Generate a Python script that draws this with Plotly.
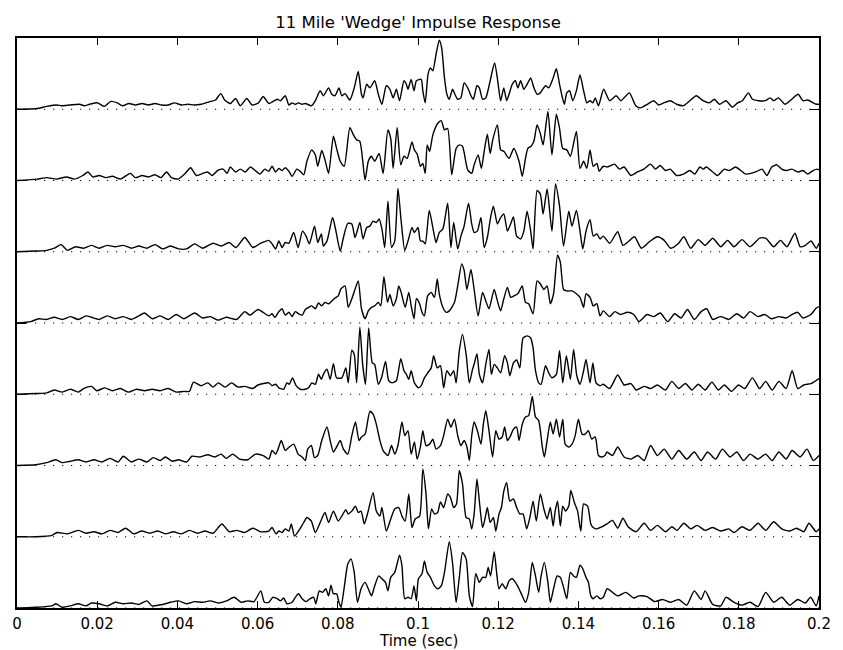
import plotly.graph_objects as go

TITLE = "11 Mile 'Wedge' Impulse Response"
X_LABEL = "Time (sec)"
X_TICKS = [0, 0.02, 0.04, 0.06, 0.08, 0.1, 0.12, 0.14, 0.16, 0.18, 0.2]
X_TICK_TEXT = ["0", "0.02", "0.04", "0.06", "0.08", "0.1", "0.12", "0.14", "0.16", "0.18", "0.2"]

# each trace: (time in ms, relative amplitude); traces listed top to bottom
TRACE_1 = [(0, 0), (5.0, 0.01), (7.4, 0.04), (9.9, 0.06), (11.1, 0.05), (13.2, 0.06), (15.6, 0.07), (16.8, 0.05),
           (18.1, 0.07), (20.1, 0.09), (21.8, 0.04), (23.4, 0.11), (25.0, 0.09), (26.3, 0.05), (27.9, 0.08), (29.5, 0.06),
           (31.2, 0.08), (32.8, 0.06), (34.4, 0.08), (36.1, 0.06), (37.7, 0.06), (39.3, 0.09), (41.0, 0.06), (42.6, 0.07),
           (44.2, 0.06), (45.9, 0.07), (48.3, 0.11), (49.5, 0.13), (50.8, 0.22), (51.8, 0.13), (53.2, 0.08), (54.5, 0.15),
           (55.7, 0.05), (57.3, 0.15), (58.6, 0.06), (60.2, 0.09), (61.4, 0.18),
           (62.8, 0.08), (64.9, 0.14), (65.7, 0.12), (66.9, 0.19), (67.8, 0.06), (68.6, 0.09), (69.4, 0.07), (70.2, 0.09),
           (71.1, 0.07), (71.9, 0.08), (73.5, 0.05), (74.4, 0.12), (75.6, 0.26), (76.4, 0.19), (77.7, 0.30), (78.5, 0.21),
           (79.3, 0.19), (80.3, 0.30), (81.0, 0.19), (81.8, 0.22), (83.0, 0.13), (84.1, 0.30), (85.1, 0.53), (85.9, 0.21),
           (86.3, 0.16), (87.2, 0.35), (88.0, 0.30), (89.2, 0.40), (90.1, 0.21), (91.0, 0.07), (92.1, 0.33), (93.0, 0.28),
           (93.8, 0.16), (94.6, 0.28), (95.4, 0.12), (96.5, 0.40), (97.1, 0.35), (97.5, 0.28), (98.3, 0.42), (99.0, 0.26),
           (99.6, 0.40), (100.8, 0.42), (101.2, 0.26), (101.8, 0.09), (102.5, 0.49), (103.1, 0.58), (103.7, 0.54),
           (104.5, 0.77), (105.3, 0.97), (105.9, 0.86), (106.6, 0.44), (107.2, 0.21), (107.8, 0.14), (108.6, 0.28),
           (109.2, 0.21), (109.9, 0.14), (110.7, 0.16), (111.5, 0.37), (112.4, 0.30), (113.2, 0.19), (113.8, 0.14),
           (114.7, 0.33), (115.3, 0.30), (116.1, 0.14), (116.9, 0.16), (118.0, 0.40), (119.1, 0.65), (120.0, 0.35),
           (120.6, 0.12), (121.4, 0.30), (122.1, 0.12), (122.7, 0.21), (123.5, 0.35), (124.3, 0.40), (124.9, 0.30),
           (125.6, 0.40), (126.4, 0.28), (127.2, 0.35), (128.1, 0.44), (128.9, 0.30), (129.7, 0.21), (130.5, 0.23),
           (131.8, 0.33), (132.6, 0.30), (133.7, 0.44), (134.5, 0.57), (135.3, 0.35), (135.9, 0.19), (136.5, 0.07),
           (137.1, 0.23), (137.8, 0.26), (138.6, 0.12), (139.5, 0.26), (140.4, 0.48), (141.3, 0.26), (142.1, 0.09),
           (142.9, 0.12), (143.6, 0.09), (144.2, 0.16), (145.0, 0.05),
           (146.3, 0.28), (147.8, 0.12), (149.4, 0.19), (150.6, 0.12), (152.7, 0.23), (154.3, 0.05), (155.5, 0.02),
           (157.2, 0.07), (158.8, 0.12), (160.0, 0.06), (161.3, 0.09), (162.9, 0.12), (164.5, 0.07), (166.2, 0.05),
           (167.8, 0.12), (169.4, 0.19), (171.1, 0.12), (172.7, 0.09), (173.9, 0.14), (175.2, 0.07), (176.8, 0.12),
           (178.4, 0.03), (179.7, 0.09), (180.9, 0.12), (182.4, 0.23), (183.4, 0.14), (185.0, 0.12), (186.6, 0.12),
           (187.8, 0.16), (188.7, 0.12), (189.9, 0.16), (191.5, 0.07), (193.2, 0.14), (194.8, 0.21), (196.0, 0.12),
           (197.2, 0.13), (198.5, 0.09), (199.3, 0.07), (200.0, 0.07)]

TRACE_2 = [(0, 0), (5.0, 0.02), (7.4, 0.04), (9.9, 0.02), (12.3, 0.05), (14.4, 0.02), (16.4, 0.07), (17.7, 0.12),
           (18.9, 0.05), (20.5, 0.07), (22.2, 0.04), (23.8, 0.06), (25.8, 0.02), (27.5, 0.08), (28.3, 0.10), (29.5, 0.04),
           (31.2, 0.07), (32.8, 0.05), (34.4, 0.08), (35.9, 0.04), (37.3, 0.12), (38.5, 0.04), (40.2, 0.02), (41.8, 0.09),
           (43.3, 0.18), (44.7, 0.07), (45.9, 0.09), (47.5, 0.12), (48.7, 0.07), (50.0, 0.14), (51.4, 0.16), (52.4, 0.10),
           (53.2, 0.19), (54.5, 0.12), (55.7, 0.16), (56.9, 0.12), (58.2, 0.19), (59.4, 0.14), (60.6, 0.09), (61.8, 0.16),
           (62.8, 0.13), (63.6, 0.20), (64.5, 0.12), (65.3, 0.17), (66.1, 0.14), (66.9, 0.18), (67.8, 0.13), (68.6, 0.06),
           (69.8, 0.16), (70.6, 0.13), (71.5, 0.08), (72.3, 0.27), (73.5, 0.43), (74.4, 0.36), (75.0, 0.20), (76.0, 0.42),
           (76.8, 0.29), (77.7, 0.10), (78.9, 0.62), (79.7, 0.45), (80.6, 0.27), (81.6, 0.20), (83.0, 0.74), (83.9, 0.64),
           (84.7, 0.57), (85.5, 0.55), (86.8, 0.01), (87.6, 0.27), (88.4, 0.34), (89.2, 0.27), (90.3, 0.38), (91.3, 0.10),
           (92.5, 0.71), (93.2, 0.59), (93.8, 0.17), (94.8, 0.74), (95.7, 0.22), (96.5, 0.34), (97.3, 0.31), (98.5, 0.54),
           (99.1, 0.43), (99.8, 0.37), (100.6, 0.20), (101.2, 0.24), (101.8, 0.10), (102.3, 0.50), (102.9, 0.41),
           (103.7, 0.64), (104.9, 0.80), (105.8, 0.84), (106.6, 0.71), (107.4, 0.73), (108.4, 0.08), (109.5, 0.45),
           (110.3, 0.50), (111.1, 0.48), (112.4, 0.15), (113.4, 0.10), (114.0, 0.22), (115.0, 0.36), (115.8, 0.17),
           (116.5, 0.41), (117.3, 0.65), (118.0, 0.38), (118.6, 0.56), (119.8, 0.78), (120.6, 0.43), (121.4, 0.41),
           (122.7, 0.31), (123.9, 0.45), (125.2, 0.27), (126.0, 0.06), (126.8, 0.31), (127.4, 0.45), (128.2, 0.48),
           (128.9, 0.55), (129.7, 0.78), (130.5, 0.66), (131.2, 0.50), (132.4, 0.97), (133.4, 0.36), (134.5, 0.93),
           (135.3, 0.73), (136.1, 0.45), (137.1, 0.43), (138.0, 0.34), (139.5, 0.69), (140.4, 0.17), (141.3, 0.27),
           (142.1, 0.17), (142.9, 0.43), (143.7, 0.20), (144.6, 0.24), (145.2, 0.13),
           (146.2, 0.20), (147.3, 0.19), (149.0, 0.23), (150.2, 0.16), (151.4, 0.19), (153.1, 0.07), (154.7, 0.12),
           (156.3, 0.16), (158.0, 0.23), (159.2, 0.16), (160.4, 0.21), (161.7, 0.14), (162.9, 0.16), (164.5, 0.07),
           (166.2, 0.09), (167.8, 0.14), (169.0, 0.09), (170.3, 0.19), (171.1, 0.16), (171.9, 0.19), (173.5, 0.12),
           (174.7, 0.07), (176.4, 0.16), (177.6, 0.14), (179.2, 0.19), (180.5, 0.14), (181.7, 0.09), (184.2, 0.12),
           (185.8, 0.16), (187.0, 0.07), (188.2, 0.19), (189.5, 0.22), (190.7, 0.16), (191.9, 0.14), (193.2, 0.16),
           (194.8, 0.12), (196.0, 0.14), (197.2, 0.09), (198.5, 0.14), (199.5, 0.16), (200.0, 0.15)]

TRACE_3 = [(0, 0), (4.7, 0.01), (7.4, 0.02), (9.3, 0.05), (11.0, 0.10), (12.6, 0.02), (14.6, 0.07), (16.6, 0.05),
           (18.6, 0.09), (20.5, 0.05), (22.5, 0.09), (24.5, 0.07), (26.5, 0.09), (28.5, 0.05), (30.4, 0.08), (32.4, 0.05),
           (34.4, 0.10), (36.4, 0.04), (38.3, 0.08), (40.3, 0.04), (42.3, 0.04), (44.3, 0.11), (46.3, 0.05), (48.9, 0.12),
           (50.9, 0.08), (52.9, 0.13), (54.6, 0.06), (56.8, 0.20), (58.8, 0.06), (60.8, 0.12),
           (62.8, 0.16), (63.6, 0.11), (64.5, 0.04), (65.3, 0.15), (66.1, 0.06), (66.9, 0.13), (67.8, 0.12), (69.0, 0.27),
           (70.1, 0.06), (71.2, 0.29), (72.1, 0.22), (72.9, 0.11), (74.2, 0.36), (75.0, 0.13), (75.9, 0.25), (76.4, 0.08),
           (77.3, 0.15), (78.7, 0.48), (79.5, 0.30), (80.6, 0.01), (81.4, 0.20), (82.5, 0.40), (83.5, 0.39), (84.3, 0.20),
           (85.5, 0.41), (86.3, 0.18), (87.2, 0.34), (88.0, 0.36), (88.8, 0.43), (89.6, 0.41), (90.3, 0.46), (91.0, 0.32),
           (91.7, 0.06), (92.5, 0.71), (93.4, 0.06), (94.2, 0.15), (95.0, 0.89), (95.8, 0.43), (96.7, 0.02), (97.5, 0.15),
           (98.5, 0.34), (99.1, 0.27), (100.0, 0.34), (100.6, 0.15), (101.2, 0.15), (101.8, 0.11), (102.8, 0.58),
           (103.7, 0.34), (104.5, 0.13), (105.3, 0.27), (106.2, 0.32), (107.4, 0.68), (108.2, 0.06), (108.9, 0.41),
           (109.9, 0.04), (110.7, 0.22), (111.5, 0.36), (112.6, 0.68), (113.4, 0.39), (114.0, 0.27), (114.8, 0.29),
           (115.7, 0.48), (116.5, 0.06), (117.3, 0.20), (118.1, 0.48), (118.8, 0.64), (119.8, 0.39), (120.6, 0.48),
           (121.4, 0.53), (122.3, 0.29), (123.1, 0.39), (123.8, 0.49), (124.6, 0.22), (125.6, 0.18), (126.4, 0.29),
           (127.2, 0.57), (128.1, 0.29), (128.7, 0.04), (129.7, 0.86), (130.5, 0.81), (131.2, 0.53), (132.2, 0.88),
           (133.4, 0.29), (134.3, 0.95), (135.3, 0.64), (136.3, 0.08), (137.6, 0.57), (138.4, 0.36), (139.5, 0.58),
           (140.4, 0.29), (141.1, 0.04), (141.9, 0.29), (142.9, 0.45), (143.7, 0.22), (144.6, 0.25), (145.4, 0.18),
           (146.2, 0.22),
           (147.8, 0.12), (149.8, 0.28), (151.1, 0.09), (152.4, 0.14), (154.0, 0.21), (155.7, 0.05), (157.7, 0.14),
           (159.7, 0.21), (161.4, 0.16), (163.0, 0.05), (165.0, 0.12), (166.3, 0.21), (168.0, 0.05), (169.9, 0.17),
           (171.6, 0.09), (173.5, 0.19), (175.5, 0.07), (177.2, 0.16), (178.8, 0.07), (180.8, 0.17), (182.8, 0.07),
           (185.2, 0.19), (186.7, 0.19), (188.7, 0.07), (190.4, 0.16), (192.0, 0.07), (194.0, 0.26), (195.3, 0.07),
           (196.6, 0.09), (198.0, 0.15), (199.3, 0.05), (200.0, 0.12)]

TRACE_4 = [(0, 0), (3.4, 0.02), (5.4, 0.06), (7.4, 0.05), (9.3, 0.08), (11.3, 0.05), (13.3, 0.09), (15.3, 0.05),
           (17.2, 0.10), (18.6, 0.08), (20.5, 0.05), (22.5, 0.10), (24.5, 0.06), (26.5, 0.09), (28.5, 0.05), (30.4, 0.10),
           (31.8, 0.14), (33.7, 0.06), (35.7, 0.10), (37.7, 0.05), (39.7, 0.12), (41.6, 0.06), (44.3, 0.14), (46.3, 0.07),
           (48.2, 0.09), (50.2, 0.04), (52.2, 0.08), (54.8, 0.05), (56.8, 0.16), (58.1, 0.11), (60.1, 0.19),
           (62.8, 0.10), (63.6, 0.13), (64.3, 0.08), (65.3, 0.16), (66.1, 0.20), (66.9, 0.11), (67.8, 0.15), (68.6, 0.09),
           (69.4, 0.16), (70.2, 0.13), (71.1, 0.11), (71.9, 0.19), (72.7, 0.22), (73.5, 0.24), (74.4, 0.20), (75.2, 0.28),
           (76.0, 0.24), (76.8, 0.29), (77.7, 0.27), (78.5, 0.31), (79.3, 0.35), (80.1, 0.38), (80.8, 0.48), (81.8, 0.52),
           (82.6, 0.22), (83.5, 0.34), (84.1, 0.44), (85.1, 0.59), (85.9, 0.20), (86.8, 0.06), (87.6, 0.17), (88.4, 0.22),
           (89.2, 0.24), (90.1, 0.29), (90.7, 0.24), (91.5, 0.65), (92.4, 0.29), (93.0, 0.40), (93.8, 0.24), (94.6, 0.34),
           (95.2, 0.52), (95.8, 0.43), (96.8, 0.22), (97.7, 0.43), (98.3, 0.24), (99.0, 0.06), (99.6, 0.34), (100.4, 0.27),
           (101.0, 0.15), (101.6, 0.10), (102.4, 0.38), (103.3, 0.43), (104.1, 0.36), (104.8, 0.62), (105.3, 0.41),
           (106.2, 0.22), (107.0, 0.15), (107.8, 0.17), (109.1, 0.29), (109.9, 0.52), (110.9, 0.83), (111.5, 0.74),
           (112.2, 0.47), (113.2, 0.75), (114.0, 0.47), (115.0, 0.10), (116.1, 0.43), (116.9, 0.31), (117.7, 0.20),
           (119.0, 0.47), (119.8, 0.31), (120.6, 0.17), (121.4, 0.34), (122.3, 0.50), (123.1, 0.36), (123.9, 0.38),
           (124.9, 0.41), (126.0, 0.52), (126.8, 0.29), (127.6, 0.27), (128.7, 0.13), (129.7, 0.59), (130.5, 0.55),
           (131.4, 0.47), (132.2, 0.52), (133.0, 0.27), (133.8, 0.41), (134.8, 0.95), (135.5, 0.85), (136.3, 0.47),
           (137.1, 0.45), (138.4, 0.45), (139.5, 0.41), (140.4, 0.36), (141.3, 0.22), (141.9, 0.41), (142.9, 0.36),
           (143.7, 0.24), (144.6, 0.27), (145.4, 0.10), (146.2, 0.17),
           (147.8, 0.09), (149.1, 0.16), (150.5, 0.12), (152.2, 0.15), (153.8, 0.12), (155.1, 0.02), (157.1, 0.12),
           (158.8, 0.09), (160.4, 0.14), (162.3, 0.02), (164.0, 0.13), (165.6, 0.07), (167.2, 0.19), (168.9, 0.05),
           (170.6, 0.16), (172.0, 0.20), (173.5, 0.05), (175.5, 0.09), (177.5, 0.05), (179.5, 0.13), (181.2, 0.07),
           (182.8, 0.16), (184.8, 0.09), (186.5, 0.12), (188.1, 0.06), (190.0, 0.09), (191.8, 0.07), (193.3, 0.12),
           (194.7, 0.15), (196.0, 0.07), (198.0, 0.12), (199.3, 0.21), (200.0, 0.23)]

TRACE_5 = [(0, 0), (4.7, 0.01), (7.4, 0.02), (9.3, 0.06), (11.3, 0.03), (13.3, 0.07), (15.3, 0.03), (16.6, 0.08),
           (18.6, 0.11), (19.9, 0.05), (21.9, 0.09), (23.8, 0.05), (25.8, 0.08), (27.8, 0.03), (29.8, 0.07), (31.8, 0.05),
           (33.7, 0.07), (35.7, 0.05), (37.7, 0.08), (39.7, 0.03), (41.6, 0.04), (43.0, 0.04), (44.0, 0.17), (45.9, 0.12),
           (47.6, 0.16), (48.9, 0.10), (50.2, 0.16), (51.9, 0.10), (53.5, 0.16), (55.1, 0.10), (56.8, 0.11), (58.8, 0.08),
           (60.1, 0.13),
           (62.8, 0.16), (63.6, 0.12), (64.5, 0.14), (65.3, 0.09), (66.5, 0.07), (67.3, 0.16), (67.9, 0.14), (68.7, 0.23),
           (69.6, 0.12), (70.6, 0.07), (71.9, 0.07), (72.7, 0.09), (73.5, 0.16), (74.4, 0.14), (75.2, 0.28), (75.9, 0.21),
           (76.4, 0.28), (77.3, 0.35), (78.1, 0.21), (78.9, 0.43), (79.7, 0.23), (81.0, 0.23), (82.0, 0.37), (82.6, 0.16),
           (83.5, 0.62), (84.1, 0.56), (84.7, 0.16), (85.5, 0.94), (86.2, 0.42), (86.9, 0.14), (87.7, 0.93), (88.6, 0.44),
           (89.2, 0.42), (90.1, 0.14), (90.9, 0.23), (91.9, 0.46), (92.7, 0.19), (93.5, 0.16), (94.6, 0.19), (95.7, 0.50),
           (96.5, 0.33), (97.1, 0.28), (97.7, 0.21), (98.3, 0.33), (99.1, 0.16), (100.1, 0.09), (100.8, 0.12),
           (101.6, 0.23), (102.4, 0.30), (103.3, 0.37), (103.9, 0.54), (104.8, 0.37), (105.6, 0.40), (106.4, 0.09),
           (107.2, 0.33), (108.1, 0.26), (108.9, 0.33), (109.5, 0.16), (110.3, 0.61), (111.1, 0.84), (112.0, 0.56),
           (112.8, 0.16), (113.6, 0.35), (114.0, 0.42), (114.7, 0.57), (115.3, 0.28), (116.1, 0.16), (116.9, 0.42),
           (117.7, 0.63), (118.3, 0.28), (119.0, 0.42), (119.8, 0.37), (120.6, 0.30), (121.6, 0.54), (122.3, 0.44),
           (122.9, 0.26), (123.8, 0.44), (124.6, 0.48), (125.4, 0.37), (126.2, 0.79), (127.2, 0.82), (128.1, 0.79),
           (128.7, 0.65), (129.3, 0.33), (130.1, 0.16), (130.7, 0.14), (131.8, 0.40), (132.6, 0.30), (133.4, 0.23),
           (134.5, 0.28), (135.3, 0.61), (136.1, 0.16), (137.0, 0.54), (138.0, 0.21), (138.8, 0.63), (139.6, 0.26),
           (140.4, 0.14), (141.3, 0.33), (141.9, 0.49), (142.9, 0.16), (143.6, 0.44), (144.4, 0.16), (145.4, 0.12),
           (146.2, 0.14),
           (147.8, 0.08), (149.8, 0.27), (151.4, 0.13), (153.1, 0.15), (154.4, 0.06), (156.4, 0.11), (158.0, 0.08),
           (159.7, 0.13), (161.7, 0.06), (163.3, 0.18), (165.0, 0.08), (166.7, 0.15), (168.3, 0.06), (169.9, 0.14),
           (171.6, 0.06), (173.3, 0.17), (174.9, 0.06), (176.4, 0.13), (178.2, 0.04), (179.9, 0.13), (181.5, 0.08),
           (183.4, 0.23), (185.2, 0.08), (186.7, 0.18), (188.3, 0.06), (190.0, 0.18), (191.8, 0.08), (193.3, 0.33),
           (194.7, 0.08), (196.2, 0.13), (198.0, 0.15), (200.0, 0.22)]

TRACE_6 = [(0, 0), (4.7, 0.01), (7.4, 0.04), (9.7, 0.08), (11.3, 0.04), (13.3, 0.06), (15.3, 0.08), (17.2, 0.05),
           (19.2, 0.08), (21.2, 0.05), (23.2, 0.10), (25.2, 0.05), (26.5, 0.13), (28.5, 0.05), (30.4, 0.09), (32.4, 0.05),
           (34.0, 0.11), (35.7, 0.07), (37.0, 0.12), (38.7, 0.06), (40.3, 0.08), (42.3, 0.05), (43.6, 0.13), (45.6, 0.12),
           (47.6, 0.15), (49.3, 0.12), (50.9, 0.16), (52.2, 0.10), (53.8, 0.16), (55.5, 0.09), (57.5, 0.08), (59.5, 0.16),
           (61.4, 0.14),
           (62.8, 0.09), (63.6, 0.21), (64.5, 0.16), (65.1, 0.23), (65.9, 0.35), (66.9, 0.21), (67.9, 0.26), (69.0, 0.30),
           (70.1, 0.16), (71.1, 0.12), (71.9, 0.07), (72.5, 0.23), (73.4, 0.28), (74.2, 0.11), (75.0, 0.14), (76.0, 0.35),
           (77.3, 0.54), (78.1, 0.35), (78.9, 0.19), (79.7, 0.26), (80.6, 0.35), (81.4, 0.23), (82.5, 0.16), (83.5, 0.42),
           (84.4, 0.61), (85.3, 0.35), (85.9, 0.40), (86.8, 0.44), (88.0, 0.76), (88.8, 0.72), (89.6, 0.58), (90.5, 0.35),
           (91.3, 0.21), (92.5, 0.14), (93.4, 0.28), (94.2, 0.16), (95.0, 0.28), (96.0, 0.61), (96.7, 0.42), (97.5, 0.49),
           (98.3, 0.16), (99.1, 0.33), (99.8, 0.09), (100.6, 0.26), (101.2, 0.49), (102.0, 0.28), (102.9, 0.30),
           (103.7, 0.37), (104.5, 0.23), (105.6, 0.28), (106.4, 0.42), (107.4, 0.65), (108.2, 0.54), (109.1, 0.65),
           (109.9, 0.42), (110.7, 0.28), (111.5, 0.35), (112.2, 0.26), (112.8, 0.07), (113.4, 0.42), (114.0, 0.61),
           (114.8, 0.49), (115.7, 0.30), (116.3, 0.58), (116.9, 0.77), (117.7, 0.49), (118.6, 0.12), (119.4, 0.49),
           (120.2, 0.37), (121.0, 0.40), (121.6, 0.54), (122.3, 0.35), (123.1, 0.42), (123.8, 0.51), (124.6, 0.54),
           (125.2, 0.35), (126.0, 0.58), (126.8, 0.68), (127.6, 0.70), (128.5, 0.97), (129.3, 0.68), (130.1, 0.63),
           (131.0, 0.26), (131.5, 0.12), (132.2, 0.35), (133.0, 0.61), (133.7, 0.44), (134.5, 0.65), (135.3, 0.40),
           (136.1, 0.65), (136.7, 0.30), (137.6, 0.26), (138.4, 0.30), (139.2, 0.42), (140.0, 0.65), (140.9, 0.44),
           (141.7, 0.44), (142.5, 0.49), (143.3, 0.37), (144.2, 0.40), (145.0, 0.14), (145.8, 0.12), (146.6, 0.14),
           (147.1, 0.19),
           (148.5, 0.14), (149.8, 0.26), (151.4, 0.12), (153.1, 0.09), (154.8, 0.14), (156.4, 0.07), (158.0, 0.28),
           (159.7, 0.14), (161.4, 0.23), (163.3, 0.09), (165.0, 0.21), (167.0, 0.09), (168.9, 0.19), (170.6, 0.07),
           (172.2, 0.19), (174.2, 0.09), (175.9, 0.23), (177.8, 0.12), (179.5, 0.19), (181.2, 0.07), (182.8, 0.16),
           (184.8, 0.09), (186.7, 0.16), (188.3, 0.07), (190.0, 0.19), (191.8, 0.09), (193.3, 0.21), (195.3, 0.12),
           (197.0, 0.23), (198.6, 0.07), (200.0, 0.14)]

TRACE_7 = [(0, 0), (4.7, 0.00), (8.7, 0.02), (10.0, 0.06), (12.6, 0.04), (15.3, 0.09), (17.2, 0.05), (19.2, 0.07),
           (21.2, 0.04), (23.2, 0.09), (25.2, 0.06), (27.1, 0.12), (29.1, 0.04), (31.1, 0.08), (33.1, 0.05), (35.1, 0.08),
           (37.0, 0.04), (39.0, 0.07), (41.0, 0.04), (43.0, 0.09), (45.0, 0.05), (46.9, 0.08), (48.9, 0.05), (51.1, 0.18),
           (52.9, 0.07), (54.8, 0.09), (56.8, 0.06), (58.8, 0.12), (60.8, 0.07),
           (62.8, 0.08), (63.6, 0.13), (64.6, 0.04), (65.3, 0.08), (66.1, 0.06), (66.9, 0.11), (67.8, 0.08), (68.4, 0.18),
           (69.2, 0.01), (70.2, 0.08), (71.5, 0.20), (72.3, 0.27), (73.4, 0.22), (74.4, 0.06), (75.6, 0.20), (76.8, 0.34),
           (77.7, 0.20), (78.9, 0.36), (80.1, 0.22), (81.0, 0.29), (82.0, 0.38), (82.6, 0.32), (83.5, 0.36), (84.4, 0.43),
           (85.1, 0.34), (85.8, 0.36), (86.6, 0.18), (87.4, 0.32), (88.8, 0.62), (89.6, 0.36), (90.5, 0.29), (91.0, 0.41),
           (92.1, 0.08), (93.2, 0.25), (94.2, 0.39), (95.2, 0.41), (96.0, 0.29), (96.8, 0.22), (97.7, 0.60), (98.5, 0.13),
           (99.3, 0.25), (100.4, 0.29), (101.2, 0.95), (102.0, 0.60), (102.6, 0.11), (103.4, 0.39), (104.1, 0.32),
           (104.9, 0.34), (105.6, 0.49), (106.4, 0.41), (107.4, 0.60), (108.1, 0.55), (108.9, 0.41), (109.6, 0.46),
           (110.3, 0.93), (111.1, 0.74), (112.0, 0.27), (112.8, 0.25), (113.4, 0.11), (114.0, 0.32), (114.7, 0.81),
           (115.3, 0.50), (116.1, 0.13), (116.7, 0.25), (117.3, 0.41), (118.0, 0.20), (118.8, 0.27), (119.4, 0.08),
           (120.2, 0.32), (120.8, 0.41), (121.4, 0.64), (122.1, 0.76), (122.9, 0.50), (123.8, 0.53), (124.6, 0.41),
           (125.4, 0.32), (126.2, 0.32), (127.1, 0.11), (127.9, 0.27), (128.7, 0.50), (129.5, 0.22), (130.5, 0.60),
           (131.4, 0.39), (132.2, 0.25), (133.0, 0.41), (133.7, 0.15), (134.2, 0.36), (134.8, 0.50), (135.5, 0.15),
           (136.1, 0.43), (136.8, 0.36), (137.6, 0.43), (138.1, 0.65), (139.0, 0.48), (139.8, 0.36), (140.6, 0.08),
           (141.3, 0.46), (142.3, 0.43), (143.1, 0.18), (143.7, 0.13), (144.6, 0.11), (145.4, 0.13), (146.2, 0.15),
           (147.1, 0.18),
           (148.5, 0.23), (149.8, 0.12), (151.1, 0.26), (152.4, 0.14), (154.4, 0.07), (156.4, 0.19), (158.0, 0.09),
           (159.7, 0.16), (161.7, 0.07), (163.3, 0.14), (164.6, 0.09), (166.3, 0.19), (168.0, 0.11), (169.6, 0.16),
           (171.6, 0.09), (173.5, 0.13), (175.5, 0.08), (177.5, 0.11), (178.8, 0.06), (180.8, 0.14), (182.8, 0.09),
           (184.8, 0.19), (186.7, 0.09), (188.7, 0.21), (190.7, 0.11), (192.7, 0.08), (194.4, 0.12), (196.2, 0.07),
           (197.5, 0.19), (199.3, 0.07), (200.0, 0.11)]

TRACE_8 = [(0, 0), (0.8, 0.00), (4.7, 0.01), (8.7, 0.03), (9.7, 0.06), (11.3, 0.01), (13.3, 0.03), (15.3, 0.06),
           (17.2, 0.03), (18.6, 0.07), (20.5, 0.06), (22.5, 0.03), (24.5, 0.08), (26.5, 0.06), (28.5, 0.07), (30.4, 0.05),
           (32.4, 0.10), (33.7, 0.03), (36.4, 0.05), (38.3, 0.08), (40.3, 0.10), (42.3, 0.06), (44.3, 0.09), (46.3, 0.08),
           (48.2, 0.10), (50.2, 0.07), (52.2, 0.10), (54.2, 0.15), (55.9, 0.08), (57.5, 0.10), (59.1, 0.09), (60.8, 0.24),
           (61.7, 0.08),
           (62.8, 0.08), (63.8, 0.15), (64.9, 0.13), (65.7, 0.10), (66.5, 0.14), (67.3, 0.06), (68.6, 0.08), (69.4, 0.15),
           (70.2, 0.20), (71.1, 0.13), (72.1, 0.09), (73.1, 0.13), (74.0, 0.15), (74.5, 0.06), (75.4, 0.24), (76.2, 0.22),
           (77.0, 0.27), (77.7, 0.17), (78.3, 0.32), (78.9, 0.20), (79.7, 0.20), (80.3, 0.08), (80.8, 0.01), (81.6, 0.29),
           (82.5, 0.62), (83.3, 0.69), (84.1, 0.50), (84.9, 0.08), (85.8, 0.27), (86.8, 0.36), (87.6, 0.27), (88.4, 0.17),
           (89.2, 0.31), (90.2, 0.45), (91.0, 0.41), (91.9, 0.36), (92.5, 0.24), (93.2, 0.43), (94.2, 0.50), (95.4, 0.74),
           (96.0, 0.59), (96.7, 0.13), (97.5, 0.15), (98.3, 0.13), (99.0, 0.31), (99.6, 0.10), (100.1, 0.41),
           (101.0, 0.48), (101.6, 0.66), (102.3, 0.50), (103.1, 0.43), (104.1, 0.31), (104.9, 0.27), (105.8, 0.31),
           (106.6, 0.50), (107.8, 0.93), (108.6, 0.64), (109.5, 0.08), (110.3, 0.43), (111.1, 0.78), (112.0, 0.69),
           (112.8, 0.17), (113.6, 0.02), (114.4, 0.48), (115.3, 0.36), (116.1, 0.43), (116.9, 0.43), (117.5, 0.57),
           (118.1, 0.45), (119.0, 0.79), (119.6, 0.50), (120.2, 0.27), (121.0, 0.34), (121.9, 0.27), (122.7, 0.38),
           (123.5, 0.41), (124.3, 0.36), (125.2, 0.27), (126.0, 0.17), (126.8, 0.08), (127.6, 0.22), (128.5, 0.64),
           (129.3, 0.45), (130.1, 0.22), (130.7, 0.45), (131.5, 0.64), (132.4, 0.36), (133.0, 0.08), (133.8, 0.27),
           (134.7, 0.45), (135.5, 0.43), (136.3, 0.29), (137.1, 0.13), (138.0, 0.50), (138.8, 0.45), (139.5, 0.43),
           (140.4, 0.60), (141.1, 0.55), (141.9, 0.43), (142.5, 0.36), (143.1, 0.17), (143.7, 0.13), (144.6, 0.17),
           (145.4, 0.13), (146.2, 0.15),
           (147.2, 0.27), (149.8, 0.17), (151.8, 0.22), (153.8, 0.14), (155.1, 0.17), (157.1, 0.16), (159.0, 0.09),
           (161.0, 0.12), (163.0, 0.08), (165.0, 0.12), (167.0, 0.04), (168.9, 0.24), (170.6, 0.12), (171.6, 0.24),
           (173.5, 0.05), (175.5, 0.03), (176.8, 0.15), (178.8, 0.08), (180.8, 0.04), (182.8, 0.08), (184.8, 0.02),
           (186.7, 0.22), (188.7, 0.08), (190.7, 0.15), (192.7, 0.04), (194.7, 0.12), (196.6, 0.07), (197.9, 0.15),
           (199.3, 0.03), (200.0, 0.17)]

TRACES = [TRACE_1, TRACE_2, TRACE_3, TRACE_4, TRACE_5, TRACE_6, TRACE_7, TRACE_8]
N = len(TRACES)

fig = go.Figure()

# dotted baselines
for k in range(N):
    fig.add_shape(type="line", xref="x", yref="y", x0=0, x1=0.2, y0=k, y1=k,
                  line=dict(color="black", width=1.2, dash="1.2px,7.8px"), layer="below")

for i, tr in enumerate(TRACES):
    offset = N - 1 - i
    t = [p[0] / 1000.0 for p in tr]
    y = [p[1] + offset for p in tr]
    fig.add_trace(go.Scatter(x=t, y=y, mode="lines",
                             line=dict(color="black", width=1.4, shape="spline", smoothing=0.6),
                             hoverinfo="skip", showlegend=False))

FONT = "DejaVu Sans"
fig.update_layout(
    width=843, height=650,
    margin=dict(l=13, r=15, t=38, b=42),
    paper_bgcolor="white", plot_bgcolor="white",
    title=dict(text=TITLE, font=dict(family=FONT, size=16.5, color="black"),
               x=0.5, xref="paper", xanchor="center", y=1 - 22 / 650, yref="container", yanchor="middle"),
    showlegend=False,
)
fig.update_xaxes(range=[0, 0.2], tickvals=X_TICKS, ticktext=X_TICK_TEXT, ticks="inside", ticklen=7,
                 tickwidth=1.2, tickcolor="black", showline=True, linecolor="black", linewidth=1.5,
                 mirror="ticks", showgrid=False, zeroline=False,
                 tickfont=dict(family=FONT, size=15, color="black"), ticklabelstandoff=1)
fig.update_yaxes(range=[0, N], tickvals=list(range(N + 1)), showticklabels=False, ticks="inside", ticklen=9,
                 tickwidth=1.2, tickcolor="black", showline=True, linecolor="black", linewidth=1.5,
                 mirror="ticks", showgrid=False, zeroline=False)
fig.add_annotation(text=X_LABEL, xref="paper", yref="paper", x=0.5, y=-(641 - 608) / 570,
                   xanchor="center", yanchor="middle", showarrow=False, borderpad=0,
                   font=dict(family=FONT, size=15, color="black"))

fig.write_html("out.html", config={"displayModeBar": False},
               post_script="document.body.style.margin='0px';document.body.style.overflow='hidden';")
